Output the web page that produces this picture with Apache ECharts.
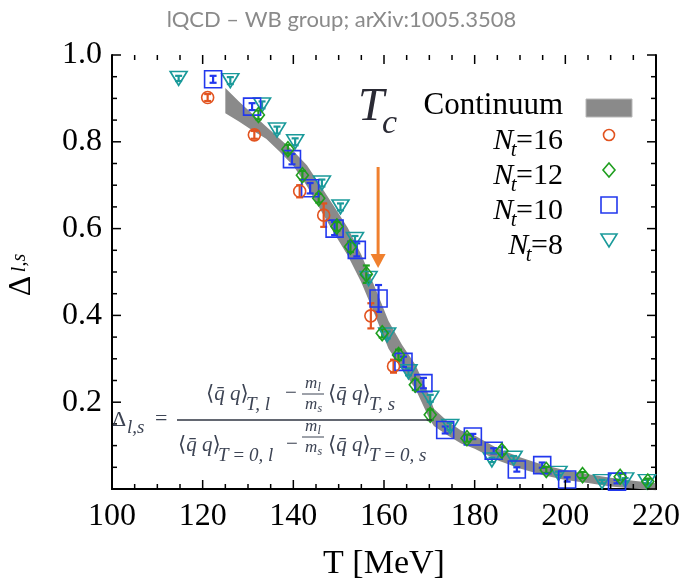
<!DOCTYPE html>
<html>
<head>
<meta charset="utf-8">
<script src="https://cdn.jsdelivr.net/npm/echarts@6/dist/echarts.min.js"></script>
<style>
html,body{margin:0;padding:0;background:#fff;}
#chart{width:683px;height:579px;}
</style>
</head>
<body>
<div id="chart"></div>
<script>
// ---- axis ticks ----
const xTicks = [100, 120, 140, 160, 180, 200, 220];
const yTicks = [0.2, 0.4, 0.6, 0.8, 1.0];
const xMinorStep = 5;
const yMinorStep = 0.05;

// ---- continuum band ----
const bandT   = [125, 128, 131, 134, 137, 140, 143, 146, 149, 152, 155, 158, 161, 164, 167, 170, 171, 174, 177, 180, 185, 190, 195, 200, 205, 210, 215, 220];
const bandMid = [0.895, 0.870, 0.845, 0.821, 0.792, 0.762, 0.722, 0.671, 0.620, 0.570, 0.508, 0.433, 0.355, 0.304, 0.257, 0.188, 0.165, 0.140, 0.120, 0.108, 0.080, 0.060, 0.044, 0.032, 0.024, 0.016, 0.010, 0.005];
const bandErr = [0.029, 0.023, 0.019, 0.014, 0.015, 0.017, 0.024, 0.028, 0.031, 0.032, 0.032, 0.032, 0.032, 0.028, 0.028, 0.026, 0.020, 0.016, 0.015, 0.015, 0.014, 0.013, 0.012, 0.011, 0.010, 0.010, 0.009, 0.008];

// ---- Nt=16 ----
const t16 = [121.1, 131.4, 141.4, 146.7, 157.1, 162.1];
const d16 = [0.902, 0.816, 0.686, 0.631, 0.399, 0.283];
const e16 = [0.008, 0.009, 0.014, 0.027, 0.029, 0.015];

// ---- Nt=12 ----
const t12 = [132.3, 138.8, 142.0, 145.6, 149.6, 152.6, 156.1, 159.6, 163.2, 166.9, 170.2, 178.3, 186.0, 195.8, 203.8, 212.1, 218.2];
const d12 = [0.862, 0.783, 0.723, 0.670, 0.605, 0.558, 0.495, 0.359, 0.309, 0.240, 0.171, 0.117, 0.088, 0.044, 0.032, 0.028, 0.017];
const e12 = [0.010, 0.010, 0.010, 0.010, 0.010, 0.012, 0.020, 0.010, 0.012, 0.012, 0.012, 0.008, 0.008, 0.007, 0.007, 0.007, 0.007];

// ---- Nt=10 ----
const t10 = [122.3, 130.9, 139.7, 143.7, 149.1, 154.0, 158.8, 164.3, 168.7, 173.5, 179.6, 184.2, 189.3, 194.9, 200.4, 211.4];
const d10 = [0.944, 0.881, 0.760, 0.693, 0.600, 0.551, 0.439, 0.293, 0.244, 0.136, 0.121, 0.088, 0.045, 0.055, 0.022, 0.017];
const e10 = [0.008, 0.008, 0.012, 0.012, 0.015, 0.015, 0.031, 0.012, 0.012, 0.008, 0.006, 0.006, 0.005, 0.006, 0.005, 0.004];

// ---- Nt=8 ----
const t8 = [114.7, 126.1, 133.1, 136.4, 140.4, 146.3, 150.4, 153.6, 156.6, 160.7, 165.4, 170.2, 174.6, 183.8, 188.6, 198.5, 208.1, 213.2, 218.0];
const d8 = [0.946, 0.941, 0.885, 0.827, 0.800, 0.705, 0.650, 0.575, 0.485, 0.355, 0.270, 0.209, 0.144, 0.067, 0.071, 0.036, 0.017, 0.021, 0.017];
const e8 = [0.006, 0.008, 0.008, 0.008, 0.008, 0.008, 0.008, 0.008, 0.008, 0.008, 0.008, 0.008, 0.008, 0.005, 0.005, 0.004, 0.004, 0.004, 0.004];

// ---- Tc arrow ----
const tcT = 158.7;
const tcFrom = 0.742;
const tcTo = 0.509;

const SERIF = "'Liberation Serif','DejaVu Serif',serif";
const C16 = '#e2531f', C12 = '#1f9e1f', C10 = '#2238ee', C8 = '#1a9a9a';
const BAND = '#8a8a8a', ARROW = '#f0802e', FORM = '#3d4454';

const mctx = document.createElement('canvas').getContext('2d');
function tw(text, size, italic) {
  mctx.font = (italic ? 'italic ' : '') + size + 'px "Liberation Serif"';
  return mctx.measureText(text).width;
}

function zip3(a, b, c) { return a.map((v, i) => [v, b[i], c[i]]); }
function zip2(a, b) { return a.map((v, i) => [v, b[i]]); }

function errSeries(t, d, e, color) {
  return {
    type: 'custom', z: 3, silent: true,
    data: zip3(t, d, e),
    renderItem: function (params, api) {
      const x = api.value(0), y = api.value(1), er = api.value(2);
      const p1 = api.coord([x, y + er]);
      const p2 = api.coord([x, y - er]);
      const w = 3.5;
      const st = { stroke: color, lineWidth: 2.2, fill: null };
      return { type: 'group', children: [
        { type: 'line', shape: { x1: p1[0], y1: p1[1], x2: p2[0], y2: p2[1] }, style: st },
        { type: 'line', shape: { x1: p1[0] - w, y1: p1[1], x2: p1[0] + w, y2: p1[1] }, style: st },
        { type: 'line', shape: { x1: p2[0] - w, y1: p2[1], x2: p2[0] + w, y2: p2[1] }, style: st }
      ]};
    }
  };
}

function scatter(name, t, d, color, symbol, size, rot) {
  return {
    name: name, type: 'scatter', z: 4, silent: true,
    data: zip2(t, d), symbol: symbol, symbolSize: size, symbolRotate: rot || 0,
    itemStyle: { color: 'rgba(0,0,0,0)', borderColor: color, borderWidth: 1.6, opacity: 1 }
  };
}

const axisCommon = {
  axisLine: { show: true, lineStyle: { color: '#000', width: 2 } },
  axisTick: { show: false },
  minorTick: { show: false },
  splitLine: { show: false }
};

// text helpers
function txt(x, y, s, size, italic, fill, align, rot) {
  return { type: 'text', x: x, y: y, z: 10, rotation: rot || 0, style: { text: s, fontFamily: SERIF, fontSize: size,
    fontStyle: italic ? 'italic' : 'normal', fill: fill, align: align || 'left', verticalAlign: 'middle' } };
}
function bracket(x, y) {
  return { type: 'text', x: x, y: y, z: 10, style: { text: '{a|⟨}{q|q̄ q}{a|⟩}', verticalAlign: 'middle', rich: {
    a: { fontFamily: SERIF, fontSize: 21, fill: FORM }, q: { fontFamily: SERIF, fontStyle: 'italic', fontSize: 21, fill: FORM } } } };
}
function mfrac(x, yTop, yBar, yBot) {
  return [
    txt(x, yTop, 'm', 17, true, FORM), txt(x + 12.5, yTop + 4, 'l', 12, true, FORM),
    { type: 'line', z: 10, shape: { x1: x - 3, y1: yBar, x2: x + 19, y2: yBar }, style: { stroke: FORM, lineWidth: 1 } },
    txt(x, yBot, 'm', 17, true, FORM), txt(x + 12.5, yBot + 4, 's', 12, true, FORM)
  ];
}

// legend rows built from measured widths
const legendRight = 563;
const legendRows = [['16', 141], ['12', 176], ['10', 211], ['8', 246]];
const legendEls = [];
legendRows.forEach(r => {
  const eq = '=' + r[0];
  const wEq = tw(eq, 30, false);
  const xEq = legendRight - wEq;
  const wT = tw('t', 21, true);
  legendEls.push(txt(legendRight, r[1], eq, 30, false, '#000', 'right'));
  legendEls.push(txt(xEq - wT + 0.5, r[1] + 9, 't', 21, true, '#000'));
  legendEls.push(txt(xEq - wT + 3, r[1], 'N', 30, true, '#000', 'right'));
});

const chart = echarts.init(document.getElementById('chart'));

const option = {
  animation: false,
  title: {
    text: 'lQCD – WB group; arXiv:1005.3508',
    left: 'center', top: 4,
    textStyle: { fontFamily: 'Lato, "Open Sans", sans-serif', fontWeight: 'normal', fontSize: 22, color: '#8a8a8a' }
  },
  grid: { left: 112, right: 27, top: 55, bottom: 90, containLabel: false, outerBoundsMode: 'none' },
  xAxis: [
    Object.assign({}, axisCommon, {
      type: 'value', position: 'bottom', min: 100, max: 220, interval: 20,
      axisLabel: { show: true, margin: 12, fontFamily: SERIF, fontSize: 32, color: '#000',
        customValues: xTicks, formatter: v => String(v) },
      name: 'T [MeV]', nameLocation: 'middle', nameGap: 58,
      nameTextStyle: { fontFamily: SERIF, fontSize: 34, color: '#000' }
    }),
    Object.assign({}, axisCommon, {
      type: 'value', position: 'top', min: 100, max: 220, interval: 20,
      axisLabel: { show: false }
    })
  ],
  yAxis: [
    Object.assign({}, axisCommon, {
      type: 'value', position: 'left', min: 0, max: 1, interval: 0.2,
      axisLabel: { show: true, margin: 10, fontFamily: SERIF, fontSize: 32, color: '#000',
        customValues: yTicks, formatter: v => v.toFixed(1) }
    }),
    Object.assign({}, axisCommon, {
      type: 'value', position: 'right', min: 0, max: 1, interval: 0.2,
      axisLabel: { show: false }
    })
  ],
  series: [
    {
      name: 'Continuum', type: 'custom', z: 1, silent: true,
      data: [[0]],
      renderItem: function (params, api) {
        const pts = [];
        for (let i = 0; i < bandT.length; i++) pts.push(api.coord([bandT[i], bandMid[i] + bandErr[i]]));
        for (let i = bandT.length - 1; i >= 0; i--) pts.push(api.coord([bandT[i], bandMid[i] - bandErr[i]]));
        return { type: 'polygon', shape: { points: pts }, style: { fill: BAND, stroke: null } };
      }
    },
    {
      // inward ticks on all four sides of the frame
      type: 'custom', z: 6, silent: true, clip: false,
      data: [[0]],
      renderItem: function (params, api) {
        const ch = [];
        const st = { stroke: '#000', lineWidth: 1.5 };
        const xL = api.coord([100, 0])[0], xR = api.coord([220, 0])[0];
        const yB = api.coord([100, 0])[1], yT = api.coord([100, 1])[1];
        for (let v = 100; v <= 220 + 1e-9; v += xMinorStep) {
          const major = xTicks.some(m => Math.abs(m - v) < 1e-6);
          const len = major ? 9 : 5;
          const px = api.coord([v, 0])[0];
          ch.push({ type: 'line', shape: { x1: px, y1: yB, x2: px, y2: yB - len }, style: st });
          ch.push({ type: 'line', shape: { x1: px, y1: yT, x2: px, y2: yT + len }, style: st });
        }
        for (let k = 0; k <= 20; k++) {
          const v = k * yMinorStep;
          const major = (k % 4 === 0);
          const len = major ? 9 : 5;
          const py = api.coord([100, v])[1];
          ch.push({ type: 'line', shape: { x1: xL, y1: py, x2: xL + len, y2: py }, style: st });
          ch.push({ type: 'line', shape: { x1: xR, y1: py, x2: xR - len, y2: py }, style: st });
        }
        return { type: 'group', children: ch };
      }
    },
    {
      type: 'custom', z: 2, silent: true,
      data: [[tcT, tcFrom, tcTo]],
      renderItem: function (params, api) {
        const a = api.coord([api.value(0), api.value(1)]);
        const b = api.coord([api.value(0), api.value(2)]);
        const hh = 14, hw = 7.5;
        return { type: 'group', children: [
          { type: 'line', shape: { x1: a[0], y1: a[1], x2: b[0], y2: b[1] - hh + 1 }, style: { stroke: ARROW, lineWidth: 3 } },
          { type: 'polygon', shape: { points: [[b[0] - hw, b[1] - hh], [b[0] + hw, b[1] - hh], [b[0], b[1]]] }, style: { fill: ARROW } }
        ]};
      }
    },
    errSeries(t8, d8, e8, C8),
    errSeries(t10, d10, e10, C10),
    errSeries(t12, d12, e12, C12),
    errSeries(t16, d16, e16, C16),
    scatter('Nt=8', t8, d8, C8, 'triangle', [17, 14], 180),
    scatter('Nt=10', t10, d10, C10, 'rect', 17),
    scatter('Nt=12', t12, d12, C12, 'diamond', [12, 15]),
    scatter('Nt=16', t16, d16, C16, 'circle', 12)
  ],
  graphic: [
    // y-axis name (rotated)
    txt(22, 286, 'Δ', 32, false, '#000', 'center', Math.PI / 2),
    txt(20, 263, 'l,s', 20, true, '#000', 'center', Math.PI / 2),
    // Tc
    txt(358, 108, 'T', 47, true, '#2a2a34'),
    txt(382, 124, 'c', 34, true, '#2a2a34'),
    // legend
    txt(legendRight, 106, 'Continuum', 31, false, '#000', 'right'),
    { type: 'rect', shape: { x: 586, y: 99, width: 46, height: 18 }, style: { fill: BAND, stroke: '#b8b8b8', lineWidth: 1 } },
    ...legendEls,
    { type: 'circle', shape: { cx: 609, cy: 135, r: 5.5 }, style: { fill: null, stroke: C16, lineWidth: 1.6 } },
    { type: 'polygon', shape: { points: [[609, 163], [615, 170], [609, 177], [603, 170]] }, style: { fill: null, stroke: C12, lineWidth: 1.6 } },
    { type: 'rect', shape: { x: 601, y: 197, width: 16, height: 16 }, style: { fill: null, stroke: C10, lineWidth: 1.6 } },
    { type: 'polygon', shape: { points: [[601, 234], [617, 234], [609, 247]] }, style: { fill: null, stroke: C8, lineWidth: 1.6 } },
    // formula
    txt(112, 420, 'Δ', 22, false, FORM),
    txt(127, 428, 'l,s', 19, true, FORM),
    txt(155, 419, '=', 22, false, FORM),
    { type: 'line', z: 10, shape: { x1: 177, y1: 420, x2: 432, y2: 420 }, style: { stroke: '#2f3542', lineWidth: 1.6 } },
    bracket(206, 394),
    txt(246, 405, 'T, l', 19, true, FORM),
    txt(285, 393, '−', 21, false, FORM),
    ...mfrac(305, 384, 394, 405),
    bracket(328, 394),
    txt(369, 405, 'T, s', 19, true, FORM),
    bracket(178, 445),
    txt(218, 456, 'T\u2009=\u20090, l', 19, true, FORM),
    txt(286, 444, '−', 21, false, FORM),
    ...mfrac(305, 427, 437, 448),
    bracket(328, 445),
    txt(369, 456, 'T\u2009=\u20090, s', 19, true, FORM)
  ]
};

chart.setOption(option);
</script>
</body>
</html>
